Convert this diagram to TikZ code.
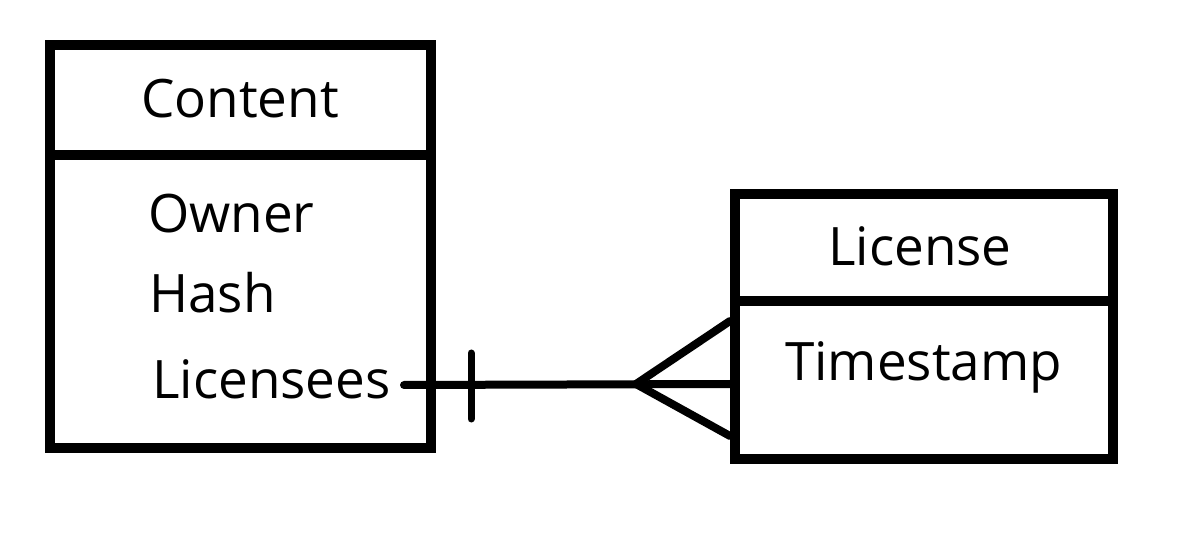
\documentclass[tikz,border=0pt]{standalone}
\usepackage{fontspec}
\setmainfont{Open Sans}
\usetikzlibrary{positioning,calc}
\tikzset{
  entbox/.style ={rectangle, draw=black, line width=10pt, fill=white, inner sep=0pt},
  sep/.style    ={line width=10pt},
  title/.style  ={font=\fontsize{53}{60}\selectfont, inner sep=0pt, anchor=base},
  attr/.style   ={font=\fontsize{53}{60}\selectfont, inner sep=0pt, anchor=base west},
  conn/.style   ={line width=8pt, line cap=round},
  foot/.style   ={line width=8pt, line cap=round},
}
\begin{document}
\begin{tikzpicture}[x=1pt,y=-1pt]
  \useasboundingbox (0,0) rectangle (1200,537);

  % entities
  \node[entbox, minimum width=381pt, minimum height=403pt] (content) at (240.5,246.5) {};
  \node[entbox, minimum width=378pt, minimum height=265pt] (license) at (924,326.5) {};

  % header separators
  \draw[sep] (content.west |- 0,155) -- (content.east |- 0,155);
  \draw[sep] (license.west |- 0,301) -- (license.east |- 0,301);

  % titles
  \node[title] (contentT) at (240,118) {Content};
  \node[title] (licenseT) at (920,266) {License};

  % attributes
  \node[attr] (owner) at (148,233) {Owner};
  \node[attr] (hash) at (149,313) {Hash};
  \node[attr] (licensees) at (152,399) {Licensees};
  \node[attr] (stamp) at (785,381) {Timestamp};

  % relation: one (bar) to many (crow's foot)
  \coordinate (start) at (404,385);
  \coordinate (crow) at (636,384);
  \coordinate (barT) at (471,353);
  \coordinate (barB) at (471,419);
  \draw[conn] (start) -- (license.west |- crow);
  \draw[line width=7pt, line cap=round] (barT) -- (barB);
  \draw[foot] (license.west |- 0,321) -- (crow) -- (license.west |- 0,436);
\end{tikzpicture}
\end{document}
